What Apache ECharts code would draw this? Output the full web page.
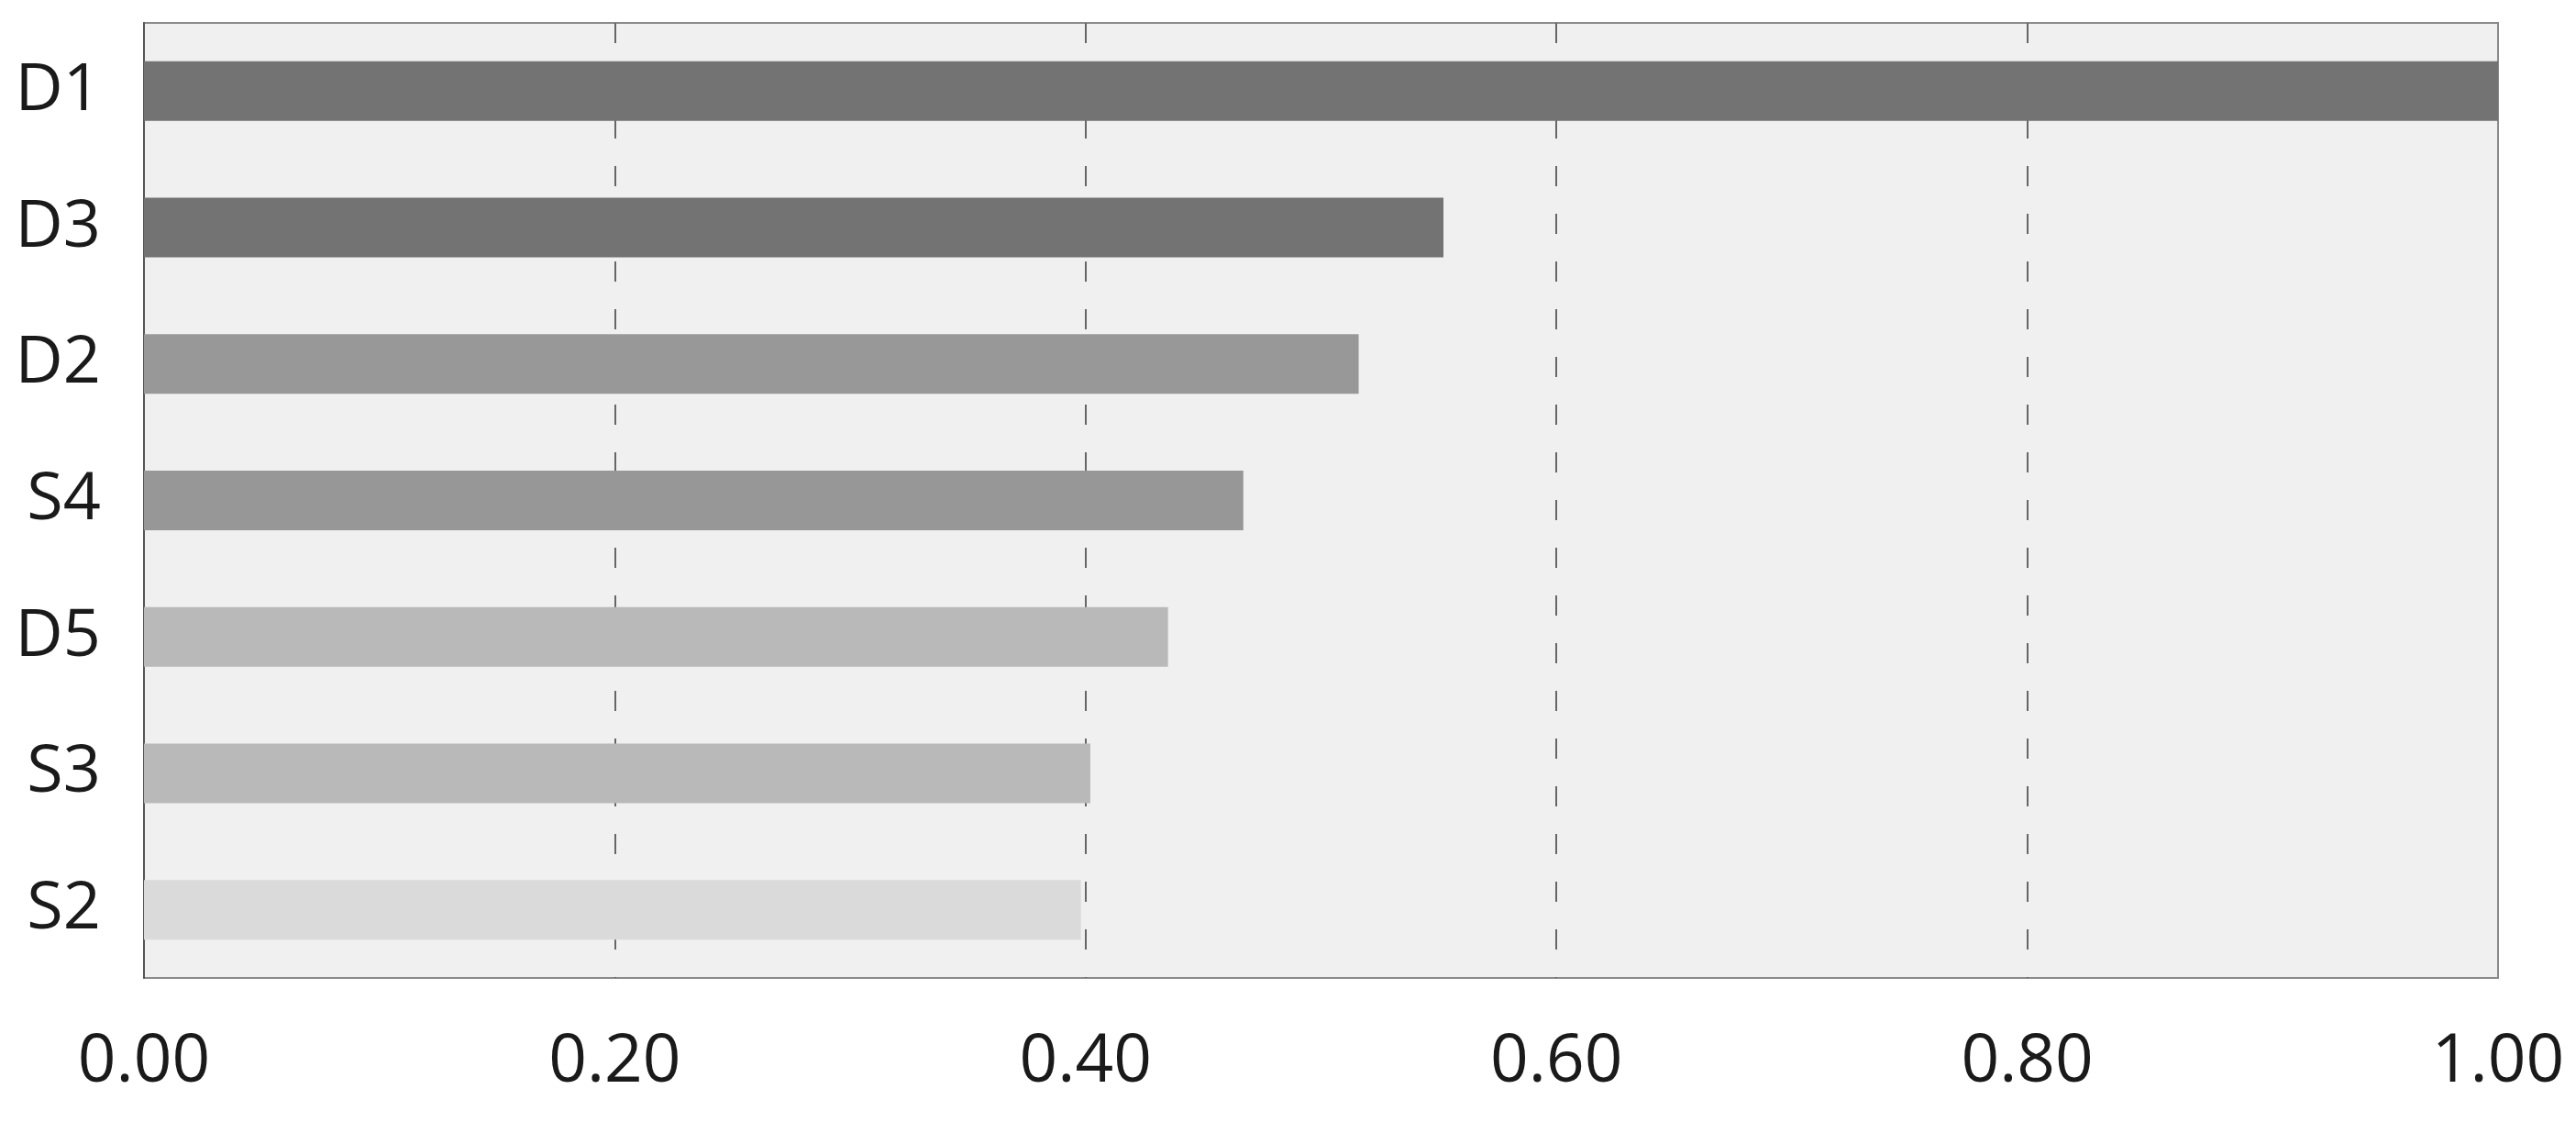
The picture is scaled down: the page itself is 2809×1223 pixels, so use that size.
<!DOCTYPE html>
<html>
<head>
<meta charset="utf-8">
<script src="https://cdn.jsdelivr.net/npm/echarts@6/dist/echarts.min.js"></script>
<style>
  html, body { margin: 0; padding: 0; background: #ffffff; }
  #chart { width: 2809px; height: 1223px; }
</style>
</head>
<body>
<div id="chart"></div>
<script>
const categories = ['D1', 'D3', 'D2', 'S4', 'D5', 'S3', 'S2'];
const values = [1.00, 0.552, 0.516, 0.467, 0.435, 0.402, 0.398];
const barColors = ['#737373', '#737373', '#989898', '#979797', '#b9b9b9', '#b9b9b9', '#dadada'];
const xTicks = [0, 0.2, 0.4, 0.6, 0.8, 1.0];

const chart = echarts.init(document.getElementById('chart'), null, { renderer: 'canvas' });
chart.setOption({
  backgroundColor: '#ffffff',
  animation: false,
  grid: {
    left: 157, right: 85, top: 25, bottom: 157,
    show: true, backgroundColor: '#f0f0f0', borderColor: '#8a8a8a', borderWidth: 2
  },
  xAxis: {
    type: 'value', min: xTicks[0], max: xTicks[xTicks.length - 1], interval: 0.2,
    axisLine: { show: false }, axisTick: { show: false },
    axisLabel: {
      formatter: v => v.toFixed(2), fontSize: 73, color: '#1a1a1a',
      fontFamily: 'Open Sans', margin: 56
    },
    splitLine: {
      show: true, showMinLine: false, showMaxLine: false,
      lineStyle: { type: [22, 30], color: '#666666', width: 2 }
    }
  },
  yAxis: {
    type: 'category', data: categories, inverse: true,
    axisLine: { show: true, lineStyle: { color: '#555555', width: 2 } },
    axisTick: { show: false },
    axisLabel: { fontSize: 72, color: '#1a1a1a', fontFamily: 'Open Sans', margin: 47 },
    splitLine: { show: false }
  },
  series: [{
    type: 'bar',
    barWidth: 65,
    data: values.map((v, i) => ({ value: v, itemStyle: { color: barColors[i] } }))
  }]
});
</script>
</body>
</html>
